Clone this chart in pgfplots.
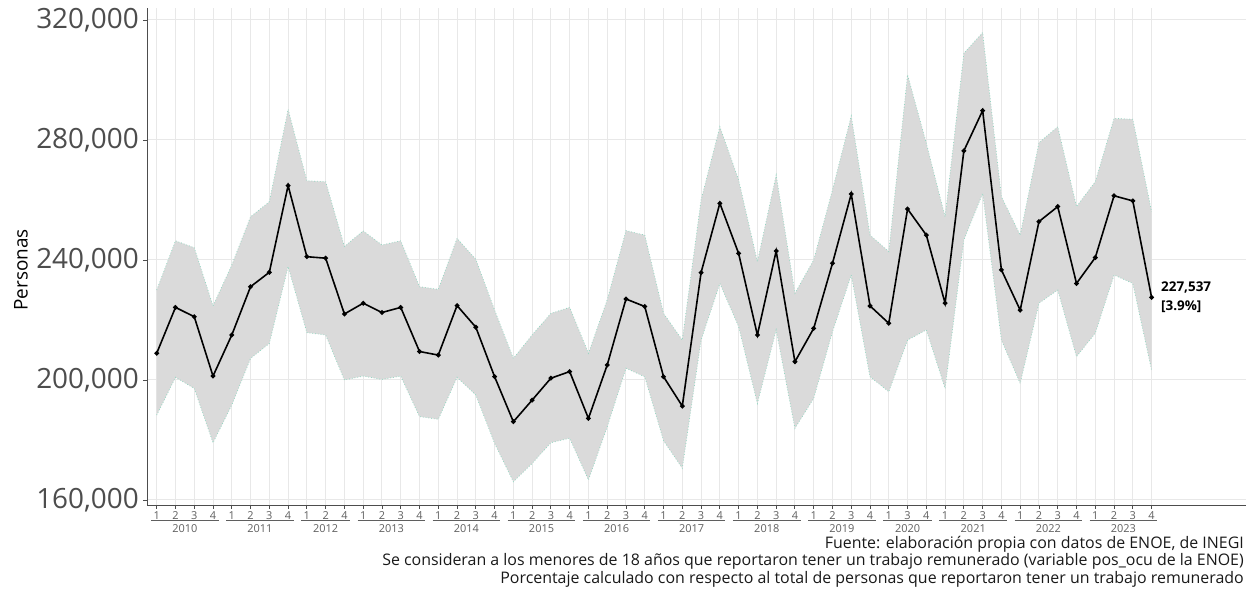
\documentclass[border=0pt]{standalone}
\usepackage{fontspec}
\setmainfont{Open Sans}
\usepackage{pgfplots}
\pgfplotsset{compat=1.18}
\usepgfplotslibrary{fillbetween}
\usepackage{pgfplotstable}

\definecolor{bandfill}{RGB}{218,218,218}
\definecolor{bandedge}{RGB}{150,215,195}
\definecolor{gridc}{RGB}{232,232,232}
\definecolor{tickc}{RGB}{77,77,77}
\definecolor{smallc}{RGB}{95,95,95}

\pgfplotstableread{
i y lo hi
0 208900 188300 230000
1 224200 200900 246400
2 221100 197200 244100
3 201300 179100 224700
4 215000 191700 238300
5 231100 207200 254400
6 235900 212200 259400
7 264800 237800 290200
8 241100 215800 266400
9 240600 215000 266100
10 222000 200000 244500
11 225600 201300 249700
12 222500 200200 245000
13 224200 201300 246400
14 209500 187800 231100
15 208300 186900 230200
16 224800 200900 247200
17 217600 195000 240200
18 201100 178900 223300
19 186100 166100 207200
20 193300 172200 215000
21 200600 179100 222200
22 202800 180600 224200
23 187200 166700 208900
24 205000 184400 226700
25 227000 203900 249800
26 224500 201100 248300
27 201100 179800 222200
28 191300 170600 213300
29 235800 213300 260000
30 258900 232200 284400
31 242200 217800 266700
32 215000 192200 239400
33 243000 216700 268300
34 206100 183900 228900
35 217200 193900 240000
36 238900 216100 263300
37 262000 235000 288000
38 224700 201100 248300
39 218900 196100 242800
40 257000 213300 301700
41 248300 216700 278900
42 225600 197200 254400
43 276400 246700 308900
44 289800 262200 315800
45 236700 213300 261100
46 223300 198900 248300
47 252800 225600 279100
48 257800 230000 284400
49 232200 207800 257800
50 240800 215600 266100
51 261400 235000 287200
52 259700 232200 286900
53 227537 203300 256100
}\datatable

\newcommand{\yr}[4]{%
  \draw[smallc, line width=0.9bp] (axis cs:#1,153333) -- (axis cs:#2,153333);
  \node[text=smallc, font=\fontsize{11}{11}\selectfont, inner sep=0pt] at (axis cs:#3,150600) {#4};
}

\begin{document}
\begin{tikzpicture}
\begin{axis}[
  set layers,
  at={(147bp,87bp)}, anchor=south west,
  scale only axis, width=1099bp, height=497bp,
  xmin=-0.517, xmax=58.03, ymin=158333, ymax=324000,
  axis x line*=bottom, axis y line*=left,
  axis line style={color=tickc, line width=0.9bp},
  clip=false,
  grid=major,
  grid style={color=gridc, line width=1bp},
  xtick={0,...,53},
  xticklabels={1,2,3,4,1,2,3,4,1,2,4,1,2,3,4,1,2,3,4,1,2,3,4,1,2,3,4,1,2,3,4,1,2,3,4,1,2,3,4,1,3,4,1,2,3,4,1,2,3,4,1,2,3,4},
  ytick={160000,200000,240000,280000,320000},
  scaled y ticks=false,
  /pgf/number format/.cd, fixed, 1000 sep={,}, assume math mode=true,
  /pgfplots/.cd,
  tick align=outside,
  major tick length=4bp,
  tick style={color=tickc, line width=0.9bp},
  xticklabel style={font=\fontsize{11}{11}\selectfont, text=smallc, inner sep=0pt, yshift=-2bp},
  yticklabel style={font=\fontsize{28}{28}\selectfont, text=tickc, inner sep=0pt, xshift=-4bp},
]
\addplot[name path=hi, draw=none, forget plot] table[x=i, y=hi] {\datatable};
\addplot[name path=lo, draw=none, forget plot] table[x=i, y=lo] {\datatable};
\addplot[fill=bandfill, draw=none, on layer=axis background] fill between[of=hi and lo];
\addplot[bandedge, dotted, line width=0.8bp] table[x=i, y=hi] {\datatable};
\addplot[bandedge, dotted, line width=0.8bp] table[x=i, y=lo] {\datatable};
\addplot[black, line width=1.6bp, mark=*, mark size=1.5bp] table[x=i, y=y] {\datatable};

\node[anchor=west, align=left, font=\fontsize{13.5}{19}\selectfont\bfseries, inner sep=0pt] at (axis cs:53.5,227537) {227,537\\{[}3.9\%{]}};

\yr{-0.3}{3.3}{1.5}{2010}
\yr{3.7}{7.3}{5.5}{2011}
\yr{7.7}{10.3}{9}{2012}
\yr{10.7}{14.3}{12.5}{2013}
\yr{14.7}{18.3}{16.5}{2014}
\yr{18.7}{22.3}{20.5}{2015}
\yr{22.7}{26.3}{24.5}{2016}
\yr{26.7}{30.3}{28.5}{2017}
\yr{30.7}{34.3}{32.5}{2018}
\yr{34.7}{38.3}{36.5}{2019}
\yr{38.7}{41.3}{40}{2020}
\yr{41.7}{45.3}{43.5}{2021}
\yr{45.7}{49.3}{47.5}{2022}
\yr{49.7}{53.3}{51.5}{2023}
\end{axis}
\node[rotate=90, font=\fontsize{19}{19}\selectfont, inner sep=0pt] at (21bp,322bp) {Personas};
\node[anchor=north east, align=right, font=\fontsize{16}{17.5}\selectfont, text={rgb,255:red,25;green,25;blue,25}, inner sep=0pt] at (1244bp,56bp) {Fuente: elaboración propia con datos de ENOE, de INEGI\\Se consideran a los menores de 18 años que reportaron tener un trabajo remunerado (variable pos\_ocu de la ENOE)\\Porcentaje calculado con respecto al total de personas que reportaron tener un trabajo remunerado};
\pgfresetboundingbox
\path[use as bounding box] (0,0) rectangle (1246bp,592bp);
\end{tikzpicture}
\end{document}
